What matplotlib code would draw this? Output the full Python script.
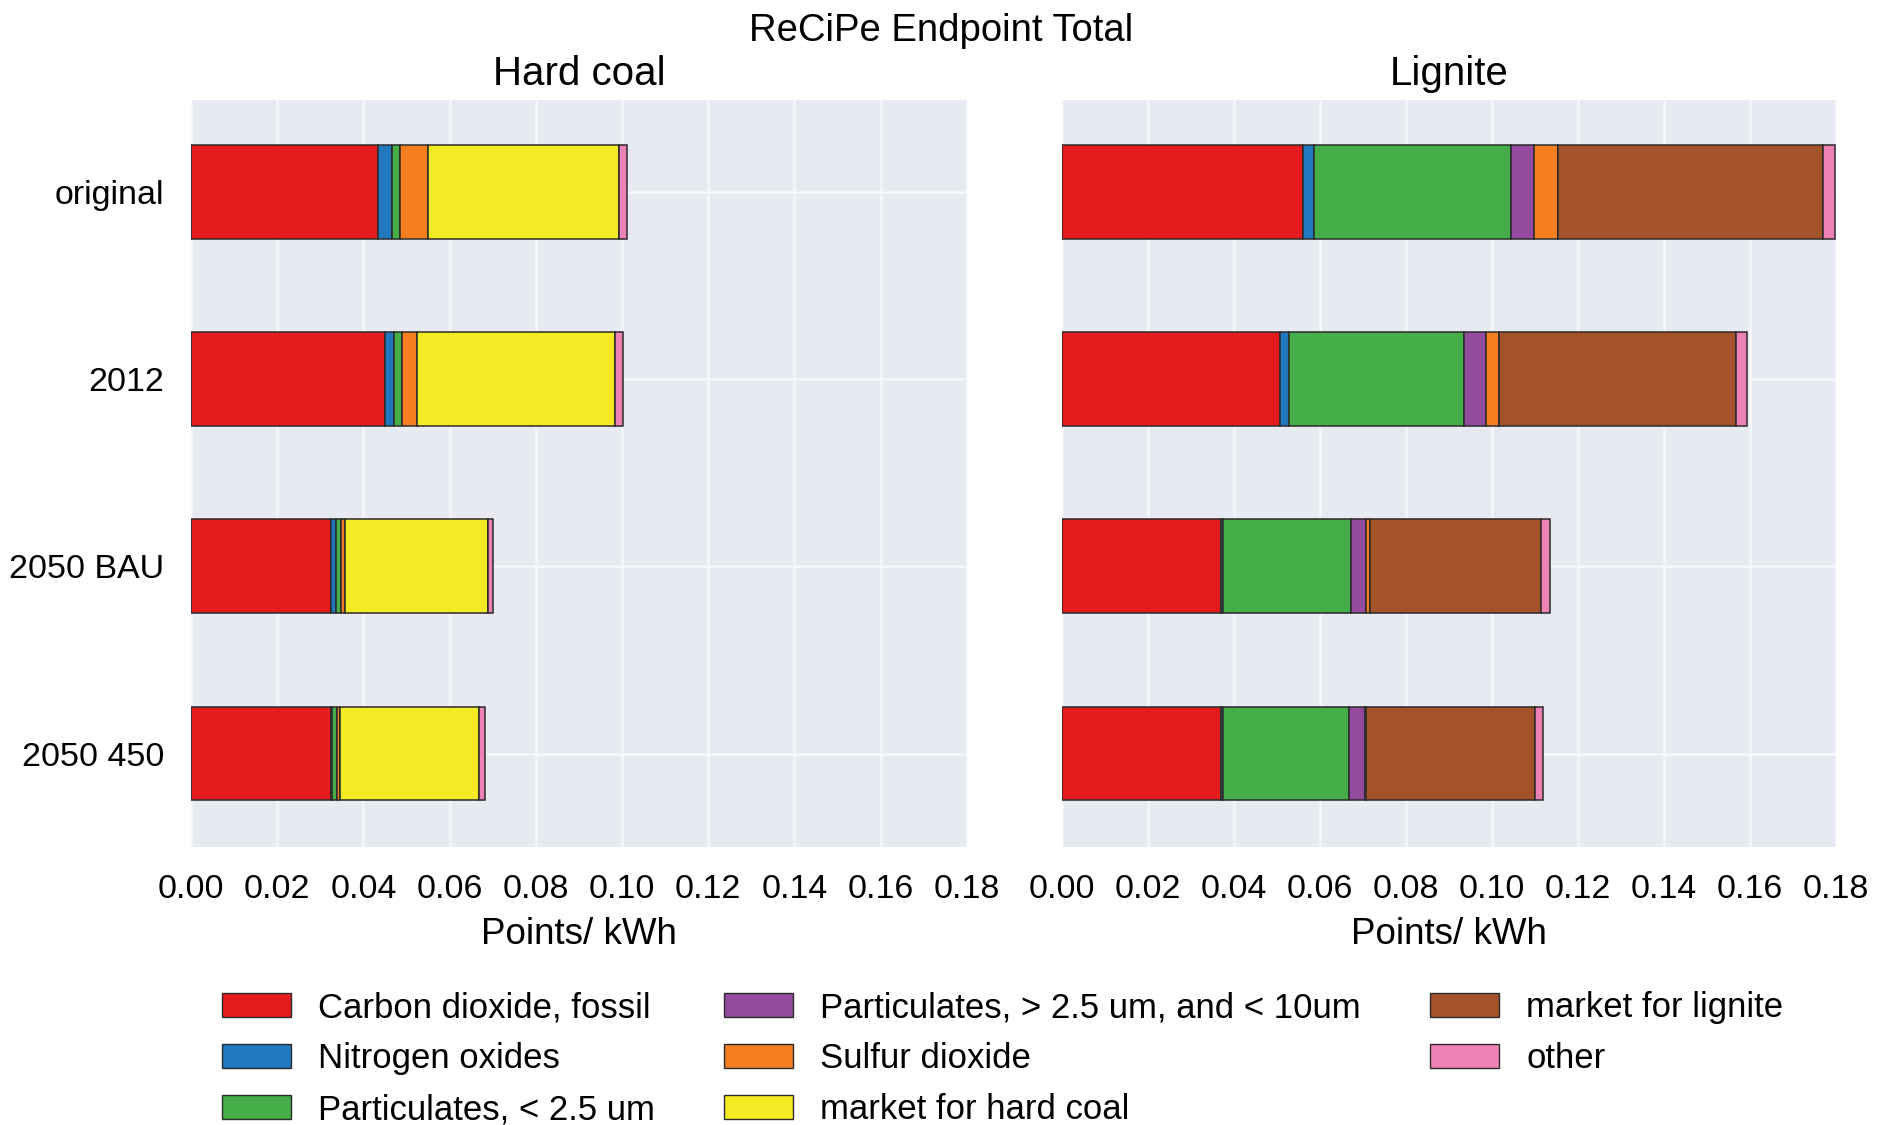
import matplotlib
matplotlib.use("Agg")
import matplotlib.pyplot as plt
from matplotlib.patches import Patch
import numpy as np

plt.rcParams['font.family'] = ['Liberation Sans', 'DejaVu Sans']

scenarios = ["original", "2012", "2050 BAU", "2050 450"]
components = ["Carbon dioxide, fossil", "Nitrogen oxides", "Particulates, < 2.5 um",
              "Particulates, > 2.5 um, and < 10um", "Sulfur dioxide",
              "market for hard coal", "market for lignite", "other"]
colors = ["#E41A1C", "#2079BF", "#45AE48", "#944A9F", "#F47E20", "#F4EB24", "#A3522A", "#ED82B6"]

# Hard coal values (Points/kWh), per component, per scenario
hc_co2    = [0.0433, 0.0449, 0.0326, 0.0326]
hc_nox    = [0.0034, 0.0021, 0.0010, 0.0002]
hc_pm25   = [0.0018, 0.0019, 0.0012, 0.0011]
hc_pm10   = [0.0000, 0.0000, 0.0000, 0.0000]
hc_so2    = [0.0064, 0.0036, 0.0010, 0.0006]
hc_mhc    = [0.0444, 0.0459, 0.0331, 0.0323]
hc_mlig   = [0.0000, 0.0000, 0.0000, 0.0000]
hc_other  = [0.0018, 0.0018, 0.0012, 0.0014]

# Lignite values
li_co2    = [0.0561, 0.0508, 0.0370, 0.0370]
li_nox    = [0.0026, 0.0019, 0.0005, 0.0004]
li_pm25   = [0.0457, 0.0408, 0.0297, 0.0293]
li_pm10   = [0.0053, 0.0051, 0.0034, 0.0037]
li_so2    = [0.0056, 0.0031, 0.0010, 0.0002]
li_mhc    = [0.0000, 0.0000, 0.0000, 0.0000]
li_mlig   = [0.0616, 0.0550, 0.0398, 0.0393]
li_other  = [0.0028, 0.0027, 0.0020, 0.0020]

panels = [
    ("Hard coal", [hc_co2, hc_nox, hc_pm25, hc_pm10, hc_so2, hc_mhc, hc_mlig, hc_other]),
    ("Lignite", [li_co2, li_nox, li_pm25, li_pm10, li_so2, li_mhc, li_mlig, li_other]),
]

xticks = [0.00, 0.02, 0.04, 0.06, 0.08, 0.10, 0.12, 0.14, 0.16, 0.18]
xticklabels = ["0.00", "0.02", "0.04", "0.06", "0.08", "0.10", "0.12", "0.14", "0.16", "0.18"]

fig = plt.figure(figsize=(18.83, 11.25), dpi=100)
axes_rects = [[0.1014, 0.247, 0.4121, 0.664], [0.564, 0.247, 0.411, 0.664]]

ypos = np.arange(len(scenarios))
for rect, (name, series) in zip(axes_rects, panels):
    ax = fig.add_axes(rect)
    ax.set_facecolor("#E8EAF2")
    left = np.zeros(len(scenarios))
    for vals, col in zip(series, colors):
        v = np.array(vals)
        ax.barh(ypos, v, left=left, height=0.5, color=col, edgecolor="#2b2b2b",
                linewidth=1.1, zorder=3)
        left = left + v
    ax.set_xlim(0, 0.18)
    ax.set_ylim(3.5, -0.49)
    ax.set_xticks(xticks)
    ax.set_xticklabels(xticklabels)
    ax.set_yticks(ypos)
    ax.set_yticklabels(scenarios if name == "Hard coal" else [])
    ax.grid(True, color="#F6F7FA", linewidth=1.8, zorder=1)
    for s in ax.spines.values():
        s.set_visible(False)
    ax.tick_params(axis="both", length=0, labelsize=24.5, colors="black")
    ax.tick_params(axis="x", pad=19)
    ax.tick_params(axis="y", pad=19)
    ax.set_xlabel("Points/ kWh", fontsize=26.5, labelpad=9)
    ax.set_title(name, fontsize=29, pad=11)

fig.text(0.5, 0.9727, "ReCiPe Endpoint Total", ha="center", va="center", fontsize=27.5)

handles = [Patch(facecolor=c, edgecolor="#2b2b2b", linewidth=1.0, label=l)
           for c, l in zip(colors, components)]
fig.legend(handles=handles, ncol=3, loc="center left", bbox_to_anchor=(0.1178, 0.059),
           frameon=False, fontsize=25, handlelength=2.0, handleheight=0.72,
           handletextpad=0.78, columnspacing=1.98, labelspacing=0.52,
           borderpad=0, borderaxespad=0)

fig.savefig("out.png", dpi=100, facecolor="white")
